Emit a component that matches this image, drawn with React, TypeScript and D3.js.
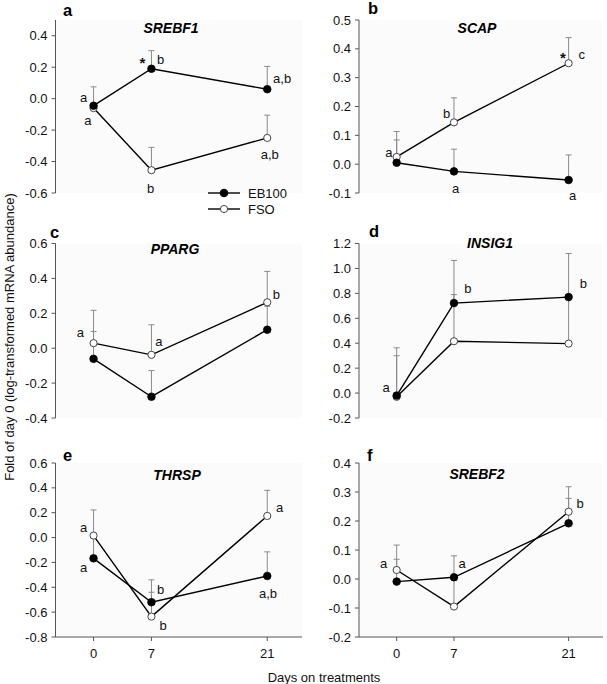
import React from "react";
import * as d3 from "d3";

// ---------- data ----------
const DAYS = [0, 7, 21];
const X_TICKS = [0, 7, 21];

const SREBF1_EB100 = [-0.045, 0.19, 0.06];
const SREBF1_EB100_TOP = [0.075, 0.305, 0.205];
const SREBF1_FSO = [-0.06, -0.455, -0.25];
const SREBF1_FSO_TOP = [-0.04, -0.31, -0.105];

const SCAP_EB100 = [0.005, -0.025, -0.055];
const SCAP_EB100_TOP = [0.084, 0.052, 0.032];
const SCAP_FSO = [0.025, 0.145, 0.35];
const SCAP_FSO_TOP = [0.113, 0.23, 0.439];

const PPARG_EB100 = [-0.061, -0.278, 0.106];
const PPARG_EB100_TOP = [0.096, -0.128, 0.24];
const PPARG_FSO = [0.029, -0.038, 0.263];
const PPARG_FSO_TOP = [0.217, 0.134, 0.44];

const INSIG1_EB100 = [-0.02, 0.722, 0.77];
const INSIG1_EB100_TOP = [0.3, 1.064, 1.12];
const INSIG1_FSO = [-0.03, 0.416, 0.397];
const INSIG1_FSO_TOP = [0.363, 0.79, 0.77];

const THRSP_EB100 = [-0.167, -0.52, -0.309];
const THRSP_EB100_TOP = [0.01, -0.34, -0.115];
const THRSP_FSO = [0.016, -0.636, 0.174];
const THRSP_FSO_TOP = [0.222, -0.44, 0.38];

const SREBF2_EB100 = [-0.009, 0.006, 0.192];
const SREBF2_EB100_TOP = [0.068, 0.08, 0.278];
const SREBF2_FSO = [0.031, -0.095, 0.232];
const SREBF2_FSO_TOP = [0.117, -0.005, 0.318];

// annotations: [day, value, text]
const SREBF1_NOTES: [number, number, string][] = [
  [-1.2, 0.01, "a"], [-0.7, -0.136, "a"], [5.9, 0.227, "*"], [8.1, 0.246, "b"],
  [22.8, 0.131, "a,b"], [21.3, -0.358, "a,b"], [6.9, -0.568, "b"],
];
const SCAP_NOTES: [number, number, string][] = [
  [-0.95, 0.039, "a"], [6.1, 0.177, "b"], [20.3, 0.368, "*"], [22.6, 0.379, "c"],
  [7.2, -0.083, "a"], [21.5, -0.107, "a"],
];
const PPARG_NOTES: [number, number, string][] = [
  [-1.6, 0.088, "a"], [7.9, 0.037, "a"], [22.1, 0.307, "b"],
];
const INSIG1_NOTES: [number, number, string][] = [
  [-1.3, 0.048, "a"], [8.7, 0.84, "b"], [22.8, 0.88, "b"],
];
const THRSP_NOTES: [number, number, string][] = [
  [-1.2, 0.085, "a"], [-1.2, -0.237, "a"], [8.1, -0.414, "b"], [8.4, -0.711, "b"],
  [22.5, 0.246, "a"], [21.1, -0.446, "a,b"],
];
const SREBF2_NOTES: [number, number, string][] = [
  [-1.6, 0.055, "a"], [8.0, 0.055, "a"], [22.4, 0.259, "b"],
];

const SERIES = ["EB100", "FSO"];

const PANELS = [
  { letter: "a", gene: "SREBF1", eb: SREBF1_EB100, ebTop: SREBF1_EB100_TOP, fso: SREBF1_FSO, fsoTop: SREBF1_FSO_TOP, y: [-0.6, 0.5], ticks: [-0.6, 0.4, 0.2], notes: SREBF1_NOTES },
  { letter: "b", gene: "SCAP", eb: SCAP_EB100, ebTop: SCAP_EB100_TOP, fso: SCAP_FSO, fsoTop: SCAP_FSO_TOP, y: [-0.1, 0.5], ticks: [-0.1, 0.5, 0.1], notes: SCAP_NOTES },
  { letter: "c", gene: "PPARG", eb: PPARG_EB100, ebTop: PPARG_EB100_TOP, fso: PPARG_FSO, fsoTop: PPARG_FSO_TOP, y: [-0.4, 0.6], ticks: [-0.4, 0.6, 0.2], notes: PPARG_NOTES },
  { letter: "d", gene: "INSIG1", eb: INSIG1_EB100, ebTop: INSIG1_EB100_TOP, fso: INSIG1_FSO, fsoTop: INSIG1_FSO_TOP, y: [-0.2, 1.2], ticks: [-0.2, 1.2, 0.2], notes: INSIG1_NOTES },
  { letter: "e", gene: "THRSP", eb: THRSP_EB100, ebTop: THRSP_EB100_TOP, fso: THRSP_FSO, fsoTop: THRSP_FSO_TOP, y: [-0.8, 0.6], ticks: [-0.8, 0.6, 0.2], notes: THRSP_NOTES },
  { letter: "f", gene: "SREBF2", eb: SREBF2_EB100, ebTop: SREBF2_EB100_TOP, fso: SREBF2_FSO, fsoTop: SREBF2_FSO_TOP, y: [-0.2, 0.4], ticks: [-0.2, 0.4, 0.1], notes: SREBF2_NOTES },
];

// ---------- layout ----------
const W = 607;
const H = 684;
const ROWS = [
  { top: 20, bottom: 193 },
  { top: 243.5, bottom: 418 },
  { top: 463, bottom: 637 },
];
const COLS = [
  { left: 55.5, right: 302 },
  { left: 359, right: 603 },
];
const X_DOMAIN = [-4.6, 25.2];
const TITLE_POS = [
  [171, 33], [477, 33], [175, 254], [490, 248], [177, 480], [477, 479],
];
const LETTER_POS = [
  [63, 15.5], [368, 14], [50, 237.5], [369, 237], [63, 460.5], [367, 461],
];
const FONT = "'Liberation Sans', Arial, Helvetica, sans-serif";

const fmt = (v: number) => {
  const s = v.toFixed(1);
  return s === "-0.0" ? "0.0" : s;
};

function Panel({ p, i }: { p: any; i: number }) {
  const row = ROWS[Math.floor(i / 2)];
  const col = COLS[i % 2];
  const x = d3.scaleLinear().domain(X_DOMAIN).range([col.left, col.right]);
  const y = d3.scaleLinear().domain(p.y).range([row.bottom, row.top]);
  const [t0, t1, step] = p.ticks;
  const ticks = d3.range(Math.round((t1 - t0) / step) + 1).map((k) => t0 + k * step);
  const line = d3
    .line<number>()
    .x((_, k) => x(DAYS[k]))
    .y((v) => y(v));
  const isBottom = i >= 4;
  const capHalf = 3;
  const errs = [
    { vals: p.eb, tops: p.ebTop },
    { vals: p.fso, tops: p.fsoTop },
  ];
  return (
    <g>
      <rect x={col.left} y={row.top} width={col.right - col.left} height={row.bottom - row.top} fill="#fbfbfb" />
      {/* y axis */}
      <line x1={col.left} x2={col.left} y1={row.top} y2={row.bottom} stroke="#555" strokeWidth={1} />
      {ticks.map((t) => (
        <g key={t}>
          <line x1={col.left - 4} x2={col.left} y1={y(t)} y2={y(t)} stroke="#555" strokeWidth={1} />
          <text x={col.left - 8} y={y(t)} dy="0.35em" textAnchor="end" fontSize={13} fill="#111">
            {fmt(t)}
          </text>
        </g>
      ))}
      {isBottom && (
        <g>
          <line x1={col.left} x2={col.right} y1={row.bottom} y2={row.bottom} stroke="#555" strokeWidth={1} />
          {X_TICKS.map((t) => (
            <g key={t}>
              <line x1={x(t)} x2={x(t)} y1={row.bottom} y2={row.bottom + 4} stroke="#555" strokeWidth={1} />
              <text x={x(t)} y={row.bottom + 21} textAnchor="middle" fontSize={13} fill="#111">
                {t}
              </text>
            </g>
          ))}
        </g>
      )}
      {/* error bars */}
      {errs.map((e, si) =>
        e.vals.map((v: number, k: number) => (
          <g key={`${si}-${k}`} stroke="#8a8a8a" strokeWidth={1}>
            <line x1={x(DAYS[k])} x2={x(DAYS[k])} y1={y(v)} y2={y(e.tops[k])} />
            <line x1={x(DAYS[k]) - capHalf} x2={x(DAYS[k]) + capHalf} y1={y(e.tops[k])} y2={y(e.tops[k])} />
          </g>
        ))
      )}
      {/* lines */}
      <path d={line(p.eb) || ""} fill="none" stroke="#000" strokeWidth={1.4} />
      <path d={line(p.fso) || ""} fill="none" stroke="#000" strokeWidth={1.4} />
      {p.fso.map((v: number, k: number) => (
        <circle key={`f${k}`} cx={x(DAYS[k])} cy={y(v)} r={3.6} fill="#fff" stroke="#444" strokeWidth={1} />
      ))}
      {p.eb.map((v: number, k: number) => (
        <circle key={`e${k}`} cx={x(DAYS[k])} cy={y(v)} r={3.8} fill="#000" stroke="#000" strokeWidth={0.8} />
      ))}
      {/* notes */}
      {p.notes.map(([d, v, s]: [number, number, string], k: number) => (
        <text
          key={`n${k}`}
          x={x(d)}
          y={y(v)}
          dy="0.35em"
          textAnchor="middle"
          fontSize={s === "*" ? 15 : 13}
          fontWeight={s === "*" ? "bold" : "normal"}
          fill="#111"
        >
          {s}
        </text>
      ))}
      <text x={TITLE_POS[i][0]} y={TITLE_POS[i][1]} textAnchor="middle" fontSize={14} fontWeight="bold" fontStyle="italic">
        {p.gene}
      </text>
      <text x={LETTER_POS[i][0]} y={LETTER_POS[i][1]} fontSize={16.5} fontWeight="bold">
        {p.letter}
      </text>
    </g>
  );
}

export default function App() {
  const legendX = 208;
  const legendY = [193, 209];
  return (
    <svg width={W} height={H} style={{ display: "block", position: "absolute", left: 0, top: 0 }} fontFamily={FONT}>
      <rect width={W} height={H} fill="#fff" />
      {PANELS.map((p, i) => (
        <Panel key={p.letter} p={p} i={i} />
      ))}
      {/* legend */}
      {SERIES.map((s, k) => (
        <g key={s}>
          <line x1={legendX} x2={legendX + 32} y1={legendY[k]} y2={legendY[k]} stroke="#000" strokeWidth={1.4} />
          <circle
            cx={legendX + 16}
            cy={legendY[k]}
            r={k === 0 ? 3.8 : 3.6}
            fill={k === 0 ? "#000" : "#fff"}
            stroke={k === 0 ? "#000" : "#444"}
            strokeWidth={1}
          />
          <text x={legendX + 40} y={legendY[k]} dy="0.35em" fontSize={13} fill="#111">
            {s}
          </text>
        </g>
      ))}
      <text
        transform={`translate(9, 337) rotate(-90)`}
        textAnchor="middle"
        dy="0.35em"
        fontSize={13}
        fill="#111"
      >
        Fold of day 0 (log-transformed mRNA abundance)
      </text>
      <text x={324} y={677} dy="0.35em" textAnchor="middle" fontSize={13} fill="#111">
        Days on treatments
      </text>
    </svg>
  );
}
